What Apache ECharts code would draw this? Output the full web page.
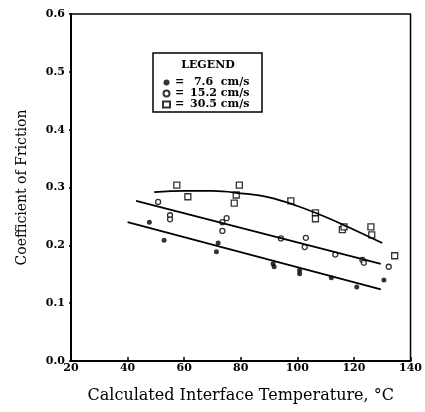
<!DOCTYPE html>
<html>
<head>
<meta charset="utf-8">
<script src="https://cdn.jsdelivr.net/npm/echarts@6/dist/echarts.min.js"></script>
<style>
html,body{margin:0;padding:0;background:#fff;}
#c{width:425px;height:412px;}
</style>
</head>
<body>
<div id="c"></div>
<script>
// Tick labels
var xTicks = [20, 40, 60, 80, 100, 120, 140];
var yTicks = [0.0, 0.1, 0.2, 0.3, 0.4, 0.5, 0.6];
var seriesNames = ['7.6', '15.2', '30.5'];

// 7.6 cm/s (filled circles)
var slowPts = [[47.7,0.240],[52.9,0.209],[72.0,0.204],[71.4,0.189],[91.4,0.168],[91.8,0.163],
  [100.8,0.157],[100.8,0.151],[112.0,0.144],[121.0,0.128],[130.6,0.140]];
// 15.2 cm/s (open circles)
var midPts = [[50.8,0.275],[55.0,0.252],[55.0,0.245],[75.0,0.247],[73.5,0.240],[73.5,0.225],
  [94.2,0.212],[103.0,0.213],[102.6,0.197],[113.4,0.184],[123.0,0.175],[123.5,0.170],[132.3,0.163]];
// 30.5 cm/s (open squares)
var fastPts = [[57.4,0.304],[61.3,0.284],[79.5,0.304],[78.4,0.287],[77.7,0.273],[97.7,0.277],
  [106.4,0.256],[106.4,0.246],[115.9,0.227],[116.5,0.232],[126.0,0.232],[126.3,0.218],[134.4,0.182]];

// Fitted curves
var slowFit = [[40.0,0.240],[129.5,0.124]];
var midFit = [[43.0,0.277],[129.5,0.168]];
var fastFit = [[49.4,0.292],[60,0.294],[70,0.294],[80,0.290],[90,0.283],[100,0.268],[110,0.249],[120,0.227],[130,0.204]];

var FONT = 'DejaVu Serif';
var chart = echarts.init(document.getElementById('c'), null, {renderer:'canvas'});
chart.setOption({
  animation:false,
  backgroundColor:'#fff',
  grid:{left:71,right:11,top:14,bottom:51,show:true,borderColor:'#000',borderWidth:1.5,backgroundColor:'transparent'},
  xAxis:{type:'value',min:xTicks[0],max:xTicks[xTicks.length-1],interval:20,
    name:'Calculated Interface Temperature, °C',nameLocation:'middle',nameGap:27,
    nameTextStyle:{fontFamily:FONT,fontSize:16,color:'#000'},
    axisLine:{lineStyle:{color:'#000',width:2}},
    axisTick:{inside:true,length:4,lineStyle:{color:'#000',width:1.5}},
    axisLabel:{margin:2,fontFamily:FONT,fontWeight:'bold',fontSize:11,color:'#000'},
    splitLine:{show:false}},
  yAxis:{type:'value',min:yTicks[0],max:yTicks[yTicks.length-1],interval:0.1,
    name:'Coefficient of Friction',nameLocation:'middle',nameGap:42,
    nameTextStyle:{fontFamily:FONT,fontSize:14,color:'#000'},
    axisLine:{lineStyle:{color:'#000',width:2}},
    axisTick:{length:2,lineStyle:{color:'#000',width:1.5}},
    axisLabel:{margin:6,fontFamily:FONT,fontWeight:'bold',fontSize:11,color:'#000',
      formatter:function(v){return v.toFixed(1);}},
    splitLine:{show:false}},
  legend:{orient:'vertical',left:157,top:72,itemGap:0,itemWidth:7,itemHeight:6,
    data:seriesNames,
    formatter:function(n){return '{e|=}{v|'+n+'} cm/s';},
    textStyle:{fontFamily:FONT,fontWeight:'bold',fontSize:11,color:'#000',lineHeight:10.5,
      rich:{e:{width:15,fontFamily:FONT,fontWeight:'bold',fontSize:11},
            v:{width:27,align:'right',fontFamily:FONT,fontWeight:'bold',fontSize:11}}}},
  graphic:[
    {type:'rect',shape:{x:153,y:53,width:109,height:59},style:{fill:'transparent',stroke:'#000',lineWidth:1.5}},
    {type:'text',x:208,y:65,style:{text:'LEGEND',font:'bold 11px "DejaVu Serif"',fill:'#000',align:'center',verticalAlign:'middle'}}
  ],
  series:[
    {type:'line',data:slowFit,showSymbol:false,lineStyle:{color:'#000',width:1.8},silent:true},
    {type:'line',data:midFit,showSymbol:false,lineStyle:{color:'#000',width:1.8},silent:true},
    {type:'line',data:fastFit,smooth:0.4,showSymbol:false,lineStyle:{color:'#000',width:1.8},silent:true},
    {name:seriesNames[0],type:'scatter',data:slowPts,symbol:'circle',symbolSize:5,itemStyle:{color:'#000'}},
    {name:seriesNames[1],type:'scatter',data:midPts,symbol:'circle',symbolSize:5,itemStyle:{color:'#fff',borderColor:'#000',borderWidth:1.3}},
    {name:seriesNames[2],type:'scatter',data:fastPts,symbol:'rect',symbolSize:6,itemStyle:{color:'#fff',borderColor:'#000',borderWidth:1.3}}
  ]
});
</script>
</body>
</html>
